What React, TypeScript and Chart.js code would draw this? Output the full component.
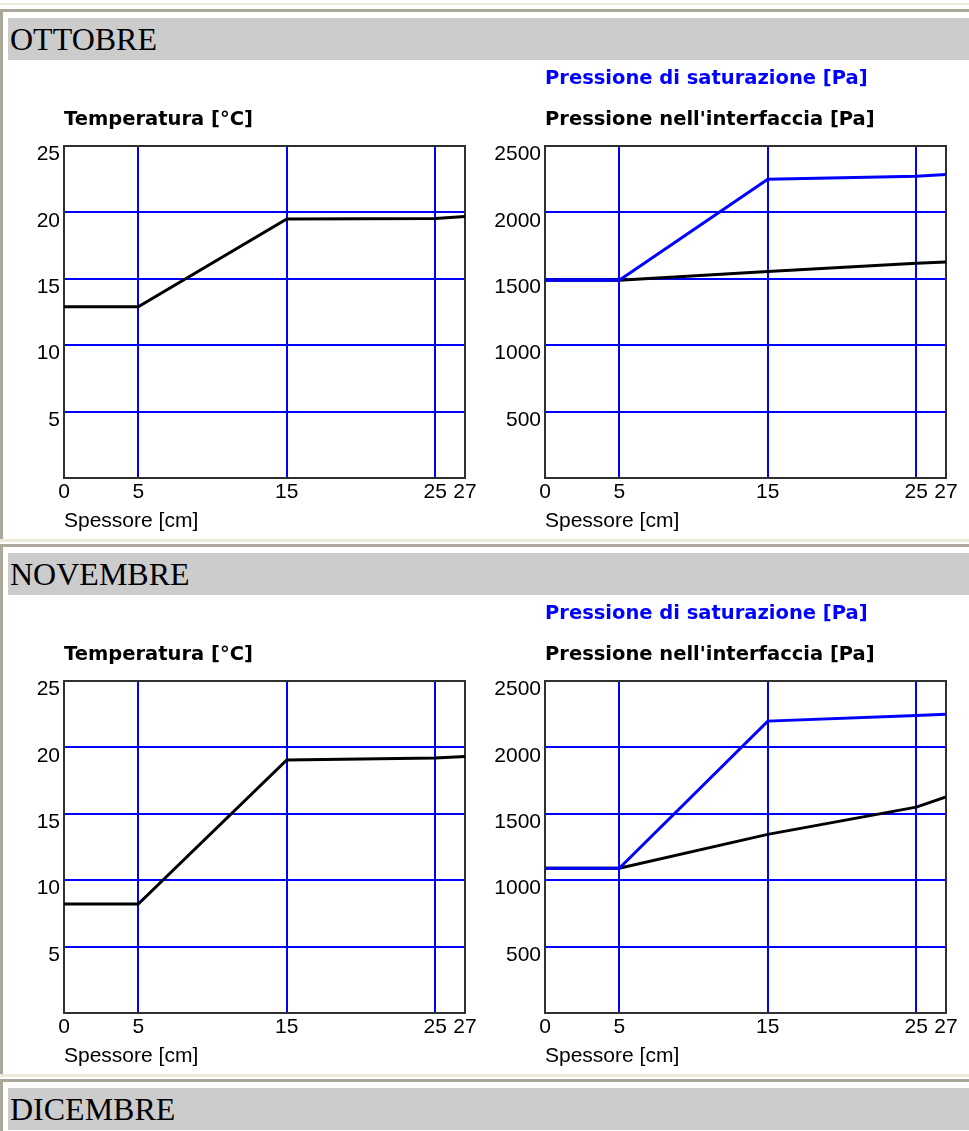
import React, { useEffect, useRef } from "react";
import { Chart, registerables } from "chart.js";

Chart.register(...registerables);

// ---- data ----
const THICKNESS_CM = [0, 5, 15, 25, 27];
const X_TICKS = [0, 5, 15, 25, 27];
const TEMP_TICKS_MAX = 25;
const TEMP_STEP = 5;
const PRESS_TICKS_MAX = 2500;
const PRESS_STEP = 500;

const OTT_TEMP = [12.9, 12.9, 19.5, 19.55, 19.7];
const OTT_SAT = [1490, 1490, 2250, 2272, 2285];
const OTT_INT = [1490, 1490, 1555, 1618, 1627];

const NOV_TEMP = [8.2, 8.2, 19.05, 19.2, 19.32];
const NOV_SAT = [1090, 1090, 2198, 2240, 2250];
const NOV_INT = [1090, 1090, 1345, 1550, 1627];

const MONTHS = ["OTTOBRE", "NOVEMBRE", "DICEMBRE"];
const TITLE_TEMP = "Temperatura [°C]";
const TITLE_SAT = "Pressione di saturazione [Pa]";
const TITLE_INT = "Pressione nell'interfaccia [Pa]";
const X_TITLE = "Spessore [cm]";

const BLUE = "#0000ff";
const FRAME = "#303030";
const TICK_FONT = { family: "'Liberation Sans', Arial, sans-serif", size: 21, lineHeight: 1.2 };
const TITLE_FONT = { family: "'DejaVu Sans', sans-serif", size: 19.5, weight: "bold" as const, lineHeight: 24 / 19.5 };

const framePlugin = {
  id: "frame",
  beforeDatasetsDraw(chart: any) {
    const { ctx, chartArea } = chart;
    ctx.save();
    ctx.strokeStyle = FRAME;
    ctx.lineWidth = 2;
    ctx.strokeRect(chartArea.left, chartArea.top, chartArea.right - chartArea.left, chartArea.bottom - chartArea.top);
    ctx.restore();
  },
};

function pts(ys: number[]) {
  return THICKNESS_CM.map((x, i) => ({ x, y: ys[i] }));
}

type Series = { label: string; values: number[]; color: string };

function LayerChart(props: {
  left: number;
  top: number;
  series: Series[];
  yMax: number;
  yStep: number;
  title: string;
  titleColor: string;
  subtitle?: string;
}) {
  const ref = useRef<HTMLCanvasElement>(null);
  useEffect(() => {
    const { series, yMax, yStep, title, titleColor, subtitle } = props;
    const xMax = X_TICKS[X_TICKS.length - 1];
    const chart = new Chart(ref.current!, {
      type: "line",
      data: {
        datasets: series.map((s) => ({
          label: s.label,
          data: pts(s.values),
          borderColor: s.color,
          backgroundColor: s.color,
          borderWidth: 3,
          pointRadius: 0,
          tension: 0,
          fill: false,
        })),
      },
      options: {
        responsive: false,
        animation: false,
        events: [],
        layout: { padding: { left: 0, right: 23, top: 0, bottom: 0 } },
        plugins: {
          legend: { display: false },
          tooltip: { enabled: false },
          title: {
            display: true,
            text: title,
            color: titleColor,
            align: "start",
            fullSize: false,
            font: TITLE_FONT,
            padding: subtitle ? { top: 5, bottom: 17 } : { top: 46, bottom: 14 },
          },
          subtitle: {
            display: !!subtitle,
            text: subtitle || "",
            color: "#000",
            align: "start",
            fullSize: false,
            font: TITLE_FONT,
            padding: { top: 0, bottom: 14 },
          },
        },
        scales: {
          x: {
            type: "linear",
            min: 0,
            max: xMax,
            afterBuildTicks: (scale: any) => {
              scale.ticks = X_TICKS.map((v) => ({ value: v }));
            },
            ticks: {
              autoSkip: false,
              maxRotation: 0,
              minRotation: 0,
              padding: 2,
              color: "#000",
              font: TICK_FONT,
              callback: (v: any) => String(v),
            },
            grid: {
              drawTicks: false,
              lineWidth: 2,
              color: (c: any) => (c.tick && (c.tick.value === 0 || c.tick.value === xMax) ? "rgba(0,0,0,0)" : BLUE),
            },
            border: { display: false },
            title: {
              display: true,
              text: X_TITLE,
              align: "start",
              color: "#000",
              font: TICK_FONT,
              padding: { top: 1, bottom: 4.6 },
            },
          },
          y: {
            type: "linear",
            min: 0,
            max: yMax,
            afterFit: (scale: any) => {
              scale.width = 56;
            },
            ticks: {
              stepSize: yStep,
              padding: 4,
              labelOffset: 8.5,
              color: "#000",
              font: TICK_FONT,
              callback: (v: any) => (v === 0 ? "" : String(v)),
            },
            grid: {
              drawTicks: false,
              lineWidth: 2,
              color: (c: any) => (c.tick && (c.tick.value === 0 || c.tick.value === yMax) ? "rgba(0,0,0,0)" : BLUE),
            },
            border: { display: false },
          },
        },
      },
      plugins: [framePlugin],
    } as any);
    return () => chart.destroy();
  }, []);
  return (
    <canvas
      ref={ref}
      width={480}
      height={476}
      style={{ position: "absolute", left: props.left, top: props.top, width: 480, height: 476, display: "block" }}
    />
  );
}

function Section(props: {
  offset: number;
  month: string;
  temp?: number[];
  sat?: number[];
  int?: number[];
  last?: boolean;
}) {
  const O = props.offset;
  const bottom = props.last ? 1131 : O + 542;
  return (
    <>
      <div style={{ position: "absolute", left: 0, top: O + 9, width: 969, height: 3, background: "#aca899" }} />
      <div style={{ position: "absolute", left: 0, top: O + 9, width: 3, height: bottom - (O + 9), background: "#aca899" }} />
      {!props.last && (
        <div style={{ position: "absolute", left: 0, top: O + 539, width: 969, height: 3, background: "#ece9d8" }} />
      )}
      <div
        style={{
          position: "absolute",
          left: 8,
          top: O + 18,
          width: 961,
          height: 42,
          background: "#cccccc",
          fontFamily: "'Liberation Serif', 'Times New Roman', serif",
          fontSize: 32,
          lineHeight: "42px",
          color: "#000",
          paddingLeft: 2,
          boxSizing: "border-box",
          whiteSpace: "nowrap",
        }}
      >
        {props.month}
      </div>
      {props.temp && (
        <LayerChart
          left={8}
          top={O + 62}
          series={[{ label: TITLE_TEMP, values: props.temp, color: "#000000" }]}
          yMax={TEMP_TICKS_MAX}
          yStep={TEMP_STEP}
          title={TITLE_TEMP}
          titleColor="#000000"
        />
      )}
      {props.sat && props.int && (
        <LayerChart
          left={489}
          top={O + 62}
          series={[
            { label: TITLE_SAT, values: props.sat, color: BLUE },
            { label: TITLE_INT, values: props.int, color: "#000000" },
          ]}
          yMax={PRESS_TICKS_MAX}
          yStep={PRESS_STEP}
          title={TITLE_SAT}
          titleColor={BLUE}
          subtitle={TITLE_INT}
        />
      )}
    </>
  );
}

export default function App() {
  return (
    <div
      style={{
        position: "absolute",
        left: 0,
        top: 0,
        width: 969,
        height: 1131,
        overflow: "hidden",
        background: "#ffffff",
      }}
    >
      <div style={{ position: "absolute", left: 0, top: 3, width: 969, height: 2, background: "#ece9d8" }} />
      <Section offset={0} month={MONTHS[0]} temp={OTT_TEMP} sat={OTT_SAT} int={OTT_INT} />
      <Section offset={535} month={MONTHS[1]} temp={NOV_TEMP} sat={NOV_SAT} int={NOV_INT} />
      <Section offset={1070} month={MONTHS[2]} last />
    </div>
  );
}
